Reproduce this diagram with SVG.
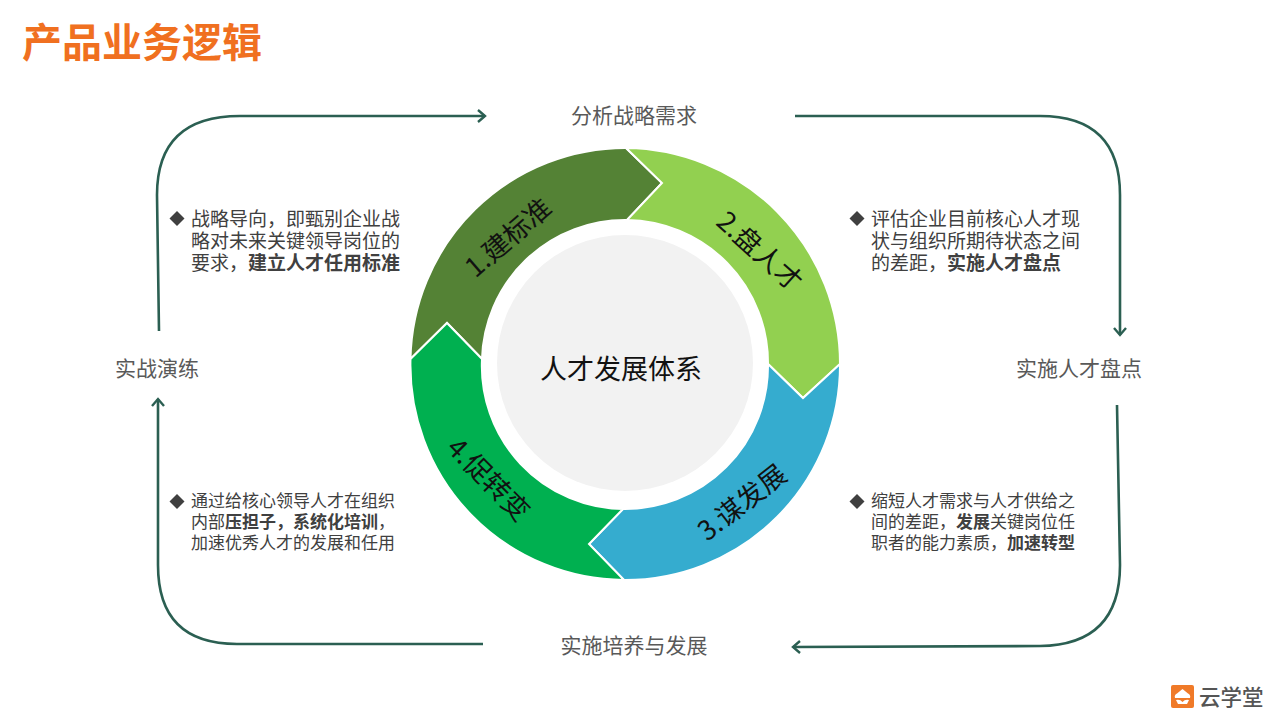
<svg xmlns="http://www.w3.org/2000/svg" width="1280" height="720" viewBox="0 0 1280 720">
<style>
text{font-family:"Noto Sans CJK SC","Noto Sans",sans-serif}
.seg{stroke:#fff;stroke-width:2;stroke-linejoin:miter}
.rl{font-size:27px;fill:#111;text-anchor:middle;dominant-baseline:central}
.lab{font-size:21px;fill:#595959;text-anchor:middle;dominant-baseline:central}
.body{font-size:19px;fill:#404040}
.small{font-size:17px}
.body tspan.b{font-weight:700}
.bul{fill:#404040}
.con{fill:none;stroke:#2B5F52;stroke-width:2.6}
</style>
<defs>
<marker id="arr" markerUnits="userSpaceOnUse" markerWidth="16" markerHeight="16" refX="13" refY="8" orient="auto">
<path d="M6 2 L13 8 L6 14" fill="none" stroke="#2B5F52" stroke-width="2.4"/>
</marker>
</defs>
<rect width="1280" height="720" fill="#fff"/>
<text id="title" x="22" y="57" font-size="40" font-weight="700" fill="#F07020">产品业务逻辑</text>
<g id="connectors">
<path class="con" marker-end="url(#arr)" d="M159 331 L157 195 Q157 116 240 116 L485 116"/>
<path class="con" marker-end="url(#arr)" d="M795 116 L1040 116 Q1120 116 1120 195 L1120 335"/>
<path class="con" marker-end="url(#arr)" d="M1117 405 L1120 565 Q1120 645 1040 646 L793 647"/>
<path class="con" marker-end="url(#arr)" d="M483 644 L237 644 Q158 644 158 565 L158 399"/>
</g>
<g id="seg1"><path class="seg" fill="#548235" d="M410.500 359 A215 215 0 0 1 626 148 L662 183 L627 220 A143 143 0 0 0 482 359 L447 323 Z"/><text class="rl" transform="translate(507 236) rotate(-41)">1.建标准</text></g>
<g id="seg2"><path class="seg" fill="#92D050" d="M626 148 A216 216 0 0 1 840 364 L803 398 L768 364 A143 143 0 0 0 627 220 L662 183 Z"/><text class="rl" transform="translate(761 250) rotate(42)">2.盘人才</text></g>
<g id="seg3"><path class="seg" fill="#35ACCF" d="M840 364 A215 215 0 0 1 624 580 L589 544 L623 509 A143 143 0 0 0 768 364 L803 398 Z"/><text class="rl" transform="translate(741 501) rotate(-38)">3.谋发展</text></g>
<g id="seg4"><path class="seg" fill="#00B050" d="M624 580 A215 215 0 0 1 410.500 359 L447 323 L482 359 A143 143 0 0 0 623 509 L589 544 Z"/><text class="rl" transform="translate(490 478) rotate(45)">4.促转变</text></g>
<g id="center"><circle cx="625" cy="363" r="128" fill="#F2F2F2"/><text x="621" y="367" font-size="27" fill="#111" text-anchor="middle" dominant-baseline="central">人才发展体系</text></g>
<g id="n-top"><text class="lab" x="634" y="114">分析战略需求</text></g>
<g id="n-right"><text class="lab" x="1079" y="367">实施人才盘点</text></g>
<g id="n-bottom"><text class="lab" x="634" y="644">实施培养与发展</text></g>
<g id="n-left"><text class="lab" x="157" y="367">实战演练</text></g>
<g id="desc1"><path class="bul" d="M177 211 L184.500 218.500 L177 226 L169.500 218.500 Z"/><text class="body"><tspan x="191" y="226">战略导向，即甄别企业战</tspan><tspan x="191" y="248">略对未来关键领导岗位的</tspan><tspan x="191" y="270">要求，<tspan class="b">建立人才任用标准</tspan></tspan></text></g>
<g id="desc2"><path class="bul" d="M857 211 L864.500 218.500 L857 226 L849.500 218.500 Z"/><text class="body"><tspan x="871" y="226">评估企业目前核心人才现</tspan><tspan x="871" y="248">状与组织所期待状态之间</tspan><tspan x="871" y="270">的差距，<tspan class="b">实施人才盘点</tspan></tspan></text></g>
<g id="desc3"><path class="bul" d="M857 494 L864.500 501.500 L857 509 L849.500 501.500 Z"/><text class="body small"><tspan x="871" y="507">缩短人才需求与人才供给之</tspan><tspan x="871" y="528">间的差距，<tspan class="b">发展</tspan>关键岗位任</tspan><tspan x="871" y="549">职者的能力素质，<tspan class="b">加速转型</tspan></tspan></text></g>
<g id="desc4"><path class="bul" d="M177 494 L184.500 501.500 L177 509 L169.500 501.500 Z"/><text class="body small"><tspan x="191" y="507">通过给核心领导人才在组织</tspan><tspan x="191" y="528">内部<tspan class="b">压担子，系统化培训</tspan>，</tspan><tspan x="191" y="549">加速优秀人才的发展和任用</tspan></text></g>
<g id="logo"><rect x="1171" y="685" width="23" height="23" rx="2" fill="#F07A28"/><path d="M1182.500 689 L1188 693.500 Q1191 695 1190 698 L1175 698 Q1174 695 1177 693.500 Z" fill="#fff"/><path d="M1176 700 Q1180 699 1182.500 702 Q1185 699 1189 700 L1187 704 L1178 704 Z" fill="#fff"/><text x="1199" y="705" font-size="21.500" font-weight="500" fill="#555">云学堂</text></g>
</svg>
